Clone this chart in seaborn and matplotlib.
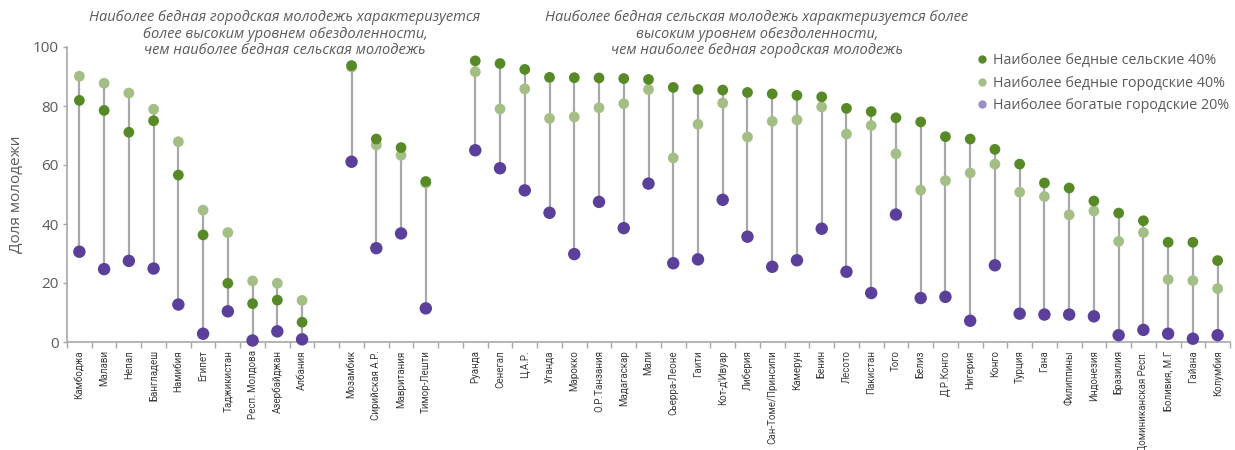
import numpy as np
import pandas as pd
import seaborn as sns
import matplotlib
matplotlib.use("Agg")
from matplotlib import pyplot as plt
from matplotlib.lines import Line2D

# Data (share of youth, %)
countries_left = ["Камбоджа", "Малави", "Непал", "Бангладеш", "Намибия", "Египет",
                  "Таджикистан", "Респ. Молдова", "Азербайджан", "Албания"]
countries_mid = ["Мозамбик", "Сирийская А.Р.", "Мавритания", "Тимор-Лешти"]
countries_right = ["Руанда", "Сенегал", "Ц.А.Р.", "Уганда", "Марокко", "О.Р.Танзания",
                   "Мадагаскар", "Мали", "Сьерра-Леоне", "Гаити", "Кот-д'Ивуар", "Либерия",
                   "Сан-Томе/Принсипи", "Камерун", "Бенин", "Лесото", "Пакистан", "Того",
                   "Белиз", "Д.Р.Конго", "Нигерия", "Конго", "Турция", "Гана", "Филиппины",
                   "Индонезия", "Бразилия", "Доминиканская Респ.", "Боливия, М.Г", "Гайана",
                   "Колумбия"]

rural_poor = [81.9, 78.5, 71.1, 75.0, 56.6, 36.3, 19.9, 13.0, 14.2, 6.7,
              93.7, 68.8, 65.9, 54.4,
              95.3, 94.4, 92.4, 89.7, 89.6, 89.5, 89.3, 89.0, 86.3, 85.6, 85.4, 84.6,
              84.1, 83.6, 83.1, 79.2, 78.1, 76.0, 74.6, 69.6, 68.8, 65.3, 60.3, 53.9,
              52.2, 47.8, 43.7, 41.1, 33.8, 33.8, 27.6]
urban_poor = [90.1, 87.7, 84.4, 78.9, 67.9, 44.7, 37.1, 20.7, 19.9, 14.1,
              93.2, 66.8, 63.3, 53.9,
              91.6, 79.0, 85.8, 75.8, 76.3, 79.4, 80.8, 85.6, 62.4, 73.8, 81.0, 69.5,
              74.8, 75.3, 79.7, 70.5, 73.4, 63.8, 51.5, 54.7, 57.3, 60.3, 50.8, 49.3,
              43.1, 44.4, 34.1, 37.1, 21.2, 20.8, 18.1]
urban_rich = [30.6, 24.7, 27.5, 24.9, 12.7, 2.8, 10.4, 0.5, 3.6, 0.9,
              61.1, 31.8, 36.8, 11.4,
              65.0, 58.9, 51.4, 43.8, 29.8, 47.5, 38.6, 53.7, 26.7, 28.0, 48.2, 35.7,
              25.5, 27.7, 38.4, 23.8, 16.6, 43.2, 14.9, 15.3, 7.2, 26.0, 9.6, 9.3,
              9.3, 8.7, 2.3, 4.1, 2.8, 1.1, 2.3]

series_names = ["Наиболее бедные сельские 40%", "Наиболее бедные городские 40%",
                "Наиболее богатые городские 20%"]

title_left = ("Наиболее бедная городская молодежь характеризуется\n"
              "более высоким уровнем обездоленности,\n"
              "чем наиболее бедная сельская молодежь")
title_right = ("Наиболее бедная сельская молодежь характеризуется более\n"
               "высоким уровнем обездоленности,\n"
               "чем наиболее бедная городская молодежь")

# slot positions: one empty slot between groups
countries = countries_left + countries_mid + countries_right
pos = (list(range(len(countries_left)))
       + list(range(len(countries_left) + 1, len(countries_left) + 1 + len(countries_mid)))
       + list(range(len(countries_left) + len(countries_mid) + 2,
                    len(countries_left) + len(countries_mid) + 2 + len(countries_right))))
n_slots = pos[-1] + 1

df = pd.DataFrame({"country": countries, "pos": pos,
                   "rural": rural_poor, "urban_poor": urban_poor, "urban_rich": urban_rich})
df["lo"] = df[["rural", "urban_poor", "urban_rich"]].min(axis=1)
df["hi"] = df[["rural", "urban_poor", "urban_rich"]].max(axis=1)

c_dark = "#578a27"
c_light = "#a4bf86"
c_purple = "#5a3f9b"
c_purple_leg = "#9d8cc8"
c_grey = "#a8a8a8"
c_text = "#5a5a5a"

sns.set_theme(style="white")
plt.rcParams["font.family"] = ["Open Sans", "DejaVu Sans"]

fig = plt.figure(figsize=(12.35, 4.5), dpi=100)
ax = fig.add_axes([67 / 1235, 1 - 342 / 450, (1230 - 67) / 1235, (342 - 47) / 450])

ax.vlines(df["pos"], df["lo"], df["hi"], color=c_grey, lw=1.6, zorder=1)
sns.scatterplot(data=df, x="pos", y="urban_poor", color=c_light, s=60, edgecolor="none",
                ax=ax, zorder=2, clip_on=False)
sns.scatterplot(data=df, x="pos", y="rural", color=c_dark, s=60, edgecolor="none",
                ax=ax, zorder=3, clip_on=False)
sns.scatterplot(data=df, x="pos", y="urban_rich", color=c_purple, s=80, edgecolor="none",
                ax=ax, zorder=4, clip_on=False)

ax.set_xlim(-0.5, n_slots - 0.5)
ax.set_ylim(0, 100)
ax.set_xticks(df["pos"])
ax.set_xticklabels(df["country"], rotation=90, fontsize=7.0, color="#3a3a3a",
                   family=["Roboto", "DejaVu Sans"])
ax.set_xticks(np.arange(-0.5, n_slots, 1), minor=True)
ax.tick_params(axis="x", which="major", length=0, pad=6)
ax.tick_params(axis="x", which="minor", length=4, width=1, color=c_grey, bottom=True)
ax.set_yticks([0, 20, 40, 60, 80, 100])
ax.tick_params(axis="y", length=3, width=1, color=c_grey, labelsize=11, labelcolor=c_text,
               left=True, pad=3)
ax.set_xlabel("")
ax.set_ylabel("Доля молодежи", fontsize=11, color=c_text, labelpad=6)

for side in ["top", "right"]:
    ax.spines[side].set_visible(False)
for side in ["left", "bottom"]:
    ax.spines[side].set_color(c_grey)
    ax.spines[side].set_linewidth(1.2)

fig.text(285 / 1235, 1 - 10 / 450, title_left, ha="center", va="top", fontsize=10.5,
         style="italic", color=c_text, linespacing=1.15)
fig.text(757 / 1235, 1 - 10 / 450, title_right, ha="center", va="top", fontsize=10.5,
         style="italic", color=c_text, linespacing=1.15)

handles = [Line2D([], [], ls="none", marker="o", ms=6, mec="none", color=c)
           for c in [c_dark, c_light, c_purple_leg]]
leg = ax.legend(handles, series_names, loc="upper right", bbox_to_anchor=(1.004, 1.0),
                frameon=False, fontsize=10.3, handlelength=0.6, handletextpad=0.45,
                labelspacing=0.55, borderaxespad=0)
for t in leg.get_texts():
    t.set_color(c_text)

fig.savefig("out.png", dpi=100)
